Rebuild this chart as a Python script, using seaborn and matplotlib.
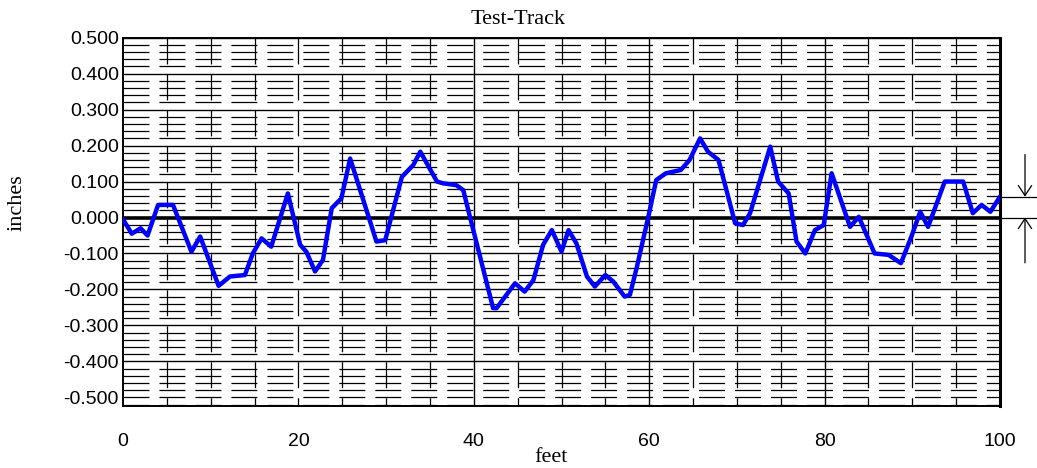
#!/usr/bin/env python3

import numpy as np
import matplotlib
matplotlib.use('Agg')
import matplotlib.pyplot as plt
import seaborn as sns
from matplotlib.ticker import FormatStrFormatter

sns.set_theme(style="white")
plt.rcParams['font.family'] = ['Liberation Sans', 'DejaVu Sans']
plt.rcParams['lines.scale_dashes'] = False

# profile (feet, inches)
feet = [0, 1.0, 2.0, 2.8, 4.0, 5.7, 7.8, 8.8, 10.9, 12.2, 13.9, 14.8, 15.8, 16.9,
        18.8, 20.2, 20.9, 21.9, 22.8, 23.8, 24.9, 25.9, 28.9, 29.9, 31.8, 33.1,
        33.9, 35.8, 36.5, 38.0, 38.8, 39.6, 42.2, 42.6, 44.7, 45.8, 46.8, 47.9,
        48.9, 50.0, 50.8, 51.7, 52.9, 53.8, 55.0, 55.9, 57.2, 57.8, 58.6, 59.9,
        60.8, 61.9, 63.6, 64.6, 65.8, 66.7, 67.9, 69.8, 70.7, 71.5, 73.8, 74.7,
        75.9, 76.8, 77.8, 78.9, 79.9, 80.8, 82.9, 83.9, 85.7, 87.3, 88.7, 89.9,
        90.9, 91.8, 93.7, 95.8, 96.9, 97.9, 98.9, 100]
inches = [-0.005, -0.045, -0.030, -0.050, 0.035, 0.035, -0.095, -0.053, -0.190,
          -0.164, -0.160, -0.100, -0.058, -0.081, 0.067, -0.076, -0.095, -0.150,
          -0.118, 0.026, 0.053, 0.164, -0.067, -0.063, 0.113, 0.146, 0.183, 0.100,
          0.095, 0.090, 0.076, -0.002, -0.252, -0.252, -0.183, -0.206, -0.174,
          -0.076, -0.035, -0.095, -0.035, -0.072, -0.164, -0.192, -0.160, -0.178,
          -0.220, -0.215, -0.137, 0.002, 0.104, 0.123, 0.132, 0.160, 0.220, 0.183,
          0.160, -0.016, -0.021, 0.012, 0.197, 0.100, 0.067, -0.067, -0.100,
          -0.035, -0.021, 0.123, -0.026, 0.002, -0.100, -0.104, -0.127, -0.053,
          0.016, -0.026, 0.100, 0.100, 0.012, 0.035, 0.016, 0.058]

x_ticks = [0, 20, 40, 60, 80, 100]
x_tick_labels = ['0', '20', '40', '60', '80', '100']
y_ticks = [-0.5, -0.4, -0.3, -0.2, -0.1, 0.0, 0.1, 0.2, 0.3, 0.4, 0.5]

fig = plt.figure(figsize=(10.37, 4.68), dpi=100)
ax = fig.add_axes([123/1037, 1-406.3/468, 877/1037, 368.6/468])
ax.set_xlim(0, 100)
ax.set_ylim(-0.525, 0.5)

dash = (0, (18.7, 7.2))

# minor horizontal grid every 0.02 (dashed), major every 0.1 (solid)
y_minor = np.round(np.arange(-0.52, 0.5, 0.02), 2)
y_minor = [v for v in y_minor if abs(round(v * 10) - v * 10) > 1e-6 or v < -0.45]
ax.hlines(y_minor, 0, 100, colors='black', linewidth=0.9, linestyles=dash, zorder=1)
ax.hlines([v for v in y_ticks if v > -0.45 and v != 0], 0, 100, colors='black',
          linewidth=1.0, zorder=1)

# vertical grid every 5 feet, drawn top to bottom
x_minor = [v for v in range(5, 100, 5) if v not in (40, 60, 80)]
ax.vlines(x_minor, 0.5, -0.525, colors='black', linewidth=0.9, linestyles=dash, zorder=1)
ax.vlines([40, 60, 80], 0.5, -0.525, colors='black', linewidth=1.0, zorder=1)

# zero reference
ax.axhline(0, color='black', linewidth=2.6, zorder=2)

sns.lineplot(x=feet, y=inches, ax=ax, color='#0000ff', linewidth=3.2,
             sort=False, estimator=None, zorder=3)

# end-value marker on the right
end_val = inches[-1]
ax.plot([100, 104.3], [end_val, end_val], color='black', lw=0.9, clip_on=False)
ax.plot([100, 104.3], [0, 0], color='black', lw=0.9, clip_on=False)
arrow = dict(arrowstyle='->,head_length=0.6,head_width=0.4', color='black', lw=0.9,
             shrinkA=0, shrinkB=0)
ax.annotate('', xy=(102.85, end_val), xytext=(102.85, end_val + 0.117),
            arrowprops=arrow, annotation_clip=False)
ax.annotate('', xy=(102.85, 0), xytext=(102.85, -0.126),
            arrowprops=arrow, annotation_clip=False)

ax.set_xticks(x_ticks)
ax.set_xticklabels(x_tick_labels)
ax.set_yticks(y_ticks)
ax.yaxis.set_major_formatter(FormatStrFormatter('%.3f'))
ax.tick_params(axis='both', length=0, labelsize=14, colors='black')
ax.tick_params(axis='x', pad=19)
ax.tick_params(axis='y', pad=3)
ax.set_xlabel('')
ax.set_ylabel('')

for side in ['left', 'top', 'bottom']:
    ax.spines[side].set_color('black')
    ax.spines[side].set_linewidth(1.4)
ax.spines['right'].set_color('black')
ax.spines['right'].set_linewidth(2.2)

serif = ['Liberation Serif', 'DejaVu Serif']
fig.text(518/1037, 1-24/468, 'Test-Track', ha='center', va='baseline',
         family=serif, size=16, color='black')
fig.text(551/1037, 1/468, 'feet', ha='center', va='bottom',
         family=serif, size=16, color='black')
fig.text(17/1037, 1-203/468, 'inches', ha='center', va='center', rotation=90,
         family=serif, size=16, color='black')

plt.savefig('out.png', dpi=100)
plt.close()
